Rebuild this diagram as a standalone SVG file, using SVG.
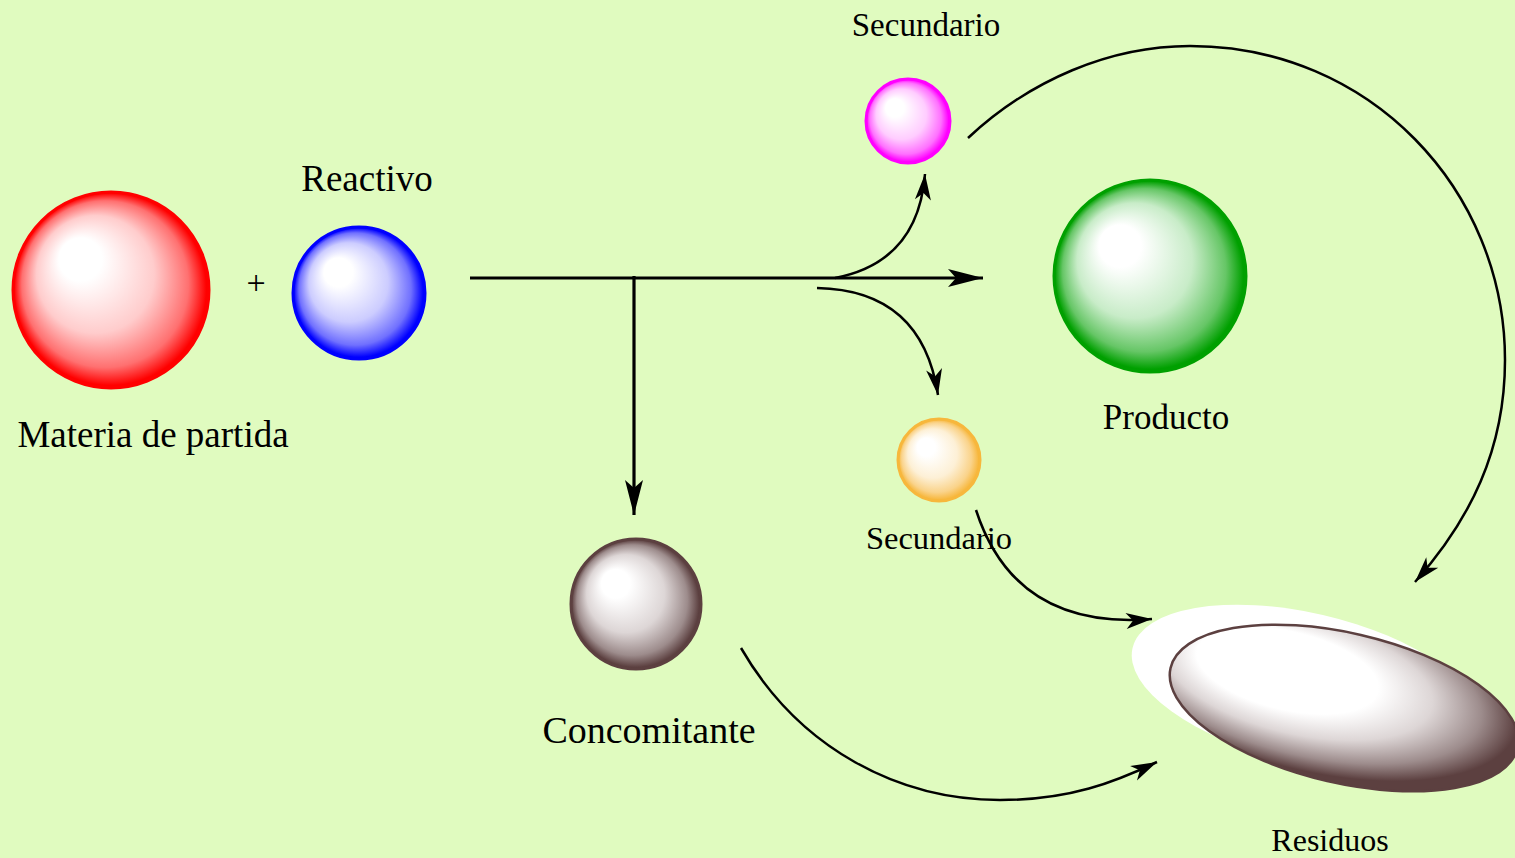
<svg xmlns="http://www.w3.org/2000/svg" width="1515" height="858" viewBox="0 0 1515 858">
<style>
.lbl{font-family:"Liberation Serif","Times New Roman",serif;fill:#000;text-anchor:middle}
.cn{fill:none;stroke:#000;stroke-width:2.5}
.main{fill:none;stroke:#000;stroke-width:3.2}
</style>
<defs>
<radialGradient id="gRed" cx="0.5" cy="0.5" r="0.5" fx="0.3" fy="0.3"><stop offset="0" stop-color="#fff"/><stop offset="0.22" stop-color="#fff"/><stop offset="0.6" stop-color="#ffcccc"/><stop offset="0.85" stop-color="#ff7070"/><stop offset="0.98" stop-color="#ff0000"/></radialGradient>
<radialGradient id="gBlue" cx="0.5" cy="0.5" r="0.5" fx="0.3" fy="0.3"><stop offset="0" stop-color="#fff"/><stop offset="0.22" stop-color="#fff"/><stop offset="0.6" stop-color="#ccccff"/><stop offset="0.85" stop-color="#7070ff"/><stop offset="0.98" stop-color="#0000ff"/></radialGradient>
<radialGradient id="gMag" cx="0.5" cy="0.5" r="0.5" fx="0.3" fy="0.3"><stop offset="0" stop-color="#fff"/><stop offset="0.22" stop-color="#fff"/><stop offset="0.6" stop-color="#ffccff"/><stop offset="0.85" stop-color="#ff70ff"/><stop offset="0.98" stop-color="#ff00ff"/></radialGradient>
<radialGradient id="gGreen" cx="0.5" cy="0.5" r="0.5" fx="0.3" fy="0.3"><stop offset="0" stop-color="#fff"/><stop offset="0.22" stop-color="#fff"/><stop offset="0.6" stop-color="#c8ecc8"/><stop offset="0.85" stop-color="#66c666"/><stop offset="0.98" stop-color="#00a000"/></radialGradient>
<radialGradient id="gOr" cx="0.5" cy="0.5" r="0.5" fx="0.3" fy="0.3"><stop offset="0" stop-color="#fff"/><stop offset="0.22" stop-color="#fff"/><stop offset="0.6" stop-color="#fdf0d6"/><stop offset="0.85" stop-color="#fad38a"/><stop offset="0.98" stop-color="#f7b73c"/></radialGradient>
<radialGradient id="gBr" cx="0.5" cy="0.5" r="0.5" fx="0.3" fy="0.3"><stop offset="0" stop-color="#fff"/><stop offset="0.22" stop-color="#fff"/><stop offset="0.6" stop-color="#ddd6d6"/><stop offset="0.85" stop-color="#9d8c8c"/><stop offset="0.98" stop-color="#5c4040"/></radialGradient>
<radialGradient id="gRes" cx="0.42" cy="0.4" r="0.62" fx="0.25" fy="0.3"><stop offset="0" stop-color="#fff"/><stop offset="0.42" stop-color="#fff"/><stop offset="0.62" stop-color="#ddd6d6"/><stop offset="0.8" stop-color="#9d8c8c"/><stop offset="0.93" stop-color="#5c4040"/></radialGradient>
<marker id="aBig" markerUnits="userSpaceOnUse" markerWidth="40" markerHeight="22" viewBox="-36 -11 40 22" refX="0" refY="0" orient="auto"><path d="M0,0 L-35,-9 L-27,0 L-35,9 z" fill="#000"/></marker>
<marker id="aSm" markerUnits="userSpaceOnUse" markerWidth="30" markerHeight="20" viewBox="-28 -10 30 20" refX="0" refY="0" orient="auto"><path d="M0,0 L-26,-8 L-19,0 L-26,8 z" fill="#000"/></marker>
</defs>
<rect width="1515" height="858" fill="#e0fbbf"/>
<g id="connectors">
<path class="main" d="M470,278 L983,278" marker-end="url(#aBig)"/>
<path class="main" d="M634,276 L634,515" marker-end="url(#aBig)"/>
<path class="cn" d="M835,278 Q918,262 925,174" marker-end="url(#aSm)"/>
<path class="cn" d="M817,288 Q922,290 938,395" marker-end="url(#aSm)"/>
<path class="cn" d="M968,138 C1030,80 1110,46 1190,46 C1370,46 1505,190 1505,360 C1505,450 1470,520 1415,582" marker-end="url(#aSm)"/>
<path class="cn" d="M976,510 Q1015,630 1152,619" marker-end="url(#aSm)"/>
<path class="cn" d="M741,648 C800,750 900,800 1000,800 C1070,800 1115,782 1157,762" marker-end="url(#aSm)"/>
</g>
<g id="materia">
<circle cx="111" cy="290" r="98" fill="url(#gRed)" stroke="#ff0000" stroke-width="3"/>
<text class="lbl" x="153" y="447" font-size="37">Materia de partida</text>
</g>
<g id="plus"><text class="lbl" x="256" y="294" font-size="34">+</text></g>
<g id="reactivo">
<circle cx="359" cy="293" r="66" fill="url(#gBlue)" stroke="#0000ff" stroke-width="3"/>
<text class="lbl" x="367" y="191" font-size="37">Reactivo</text>
</g>
<g id="secundario1">
<circle cx="908" cy="121" r="42" fill="url(#gMag)" stroke="#ff00ff" stroke-width="3"/>
<text class="lbl" x="926" y="36" font-size="33">Secundario</text>
</g>
<g id="producto">
<circle cx="1150" cy="276" r="96" fill="url(#gGreen)" stroke="#00a000" stroke-width="3"/>
<text class="lbl" x="1166" y="429" font-size="35">Producto</text>
</g>
<g id="secundario2">
<circle cx="939" cy="460" r="41" fill="url(#gOr)" stroke="#f7b73c" stroke-width="3"/>
<text class="lbl" x="939" y="549" font-size="32.5">Secundario</text>
</g>
<g id="concomitante">
<circle cx="636" cy="604" r="65" fill="url(#gBr)" stroke="#5c4040" stroke-width="3"/>
<text class="lbl" x="649" y="743" font-size="38">Concomitante</text>
</g>
<g id="residuos">
<ellipse cx="1306" cy="688" rx="178" ry="75" transform="rotate(13 1306 688)" fill="#fff"/>
<ellipse cx="1344" cy="708" rx="178" ry="75" transform="rotate(13 1344 708)" fill="url(#gRes)" stroke="#5c4040" stroke-width="2.5"/>
<text class="lbl" x="1330" y="851" font-size="32">Residuos</text>
</g>
</svg>
